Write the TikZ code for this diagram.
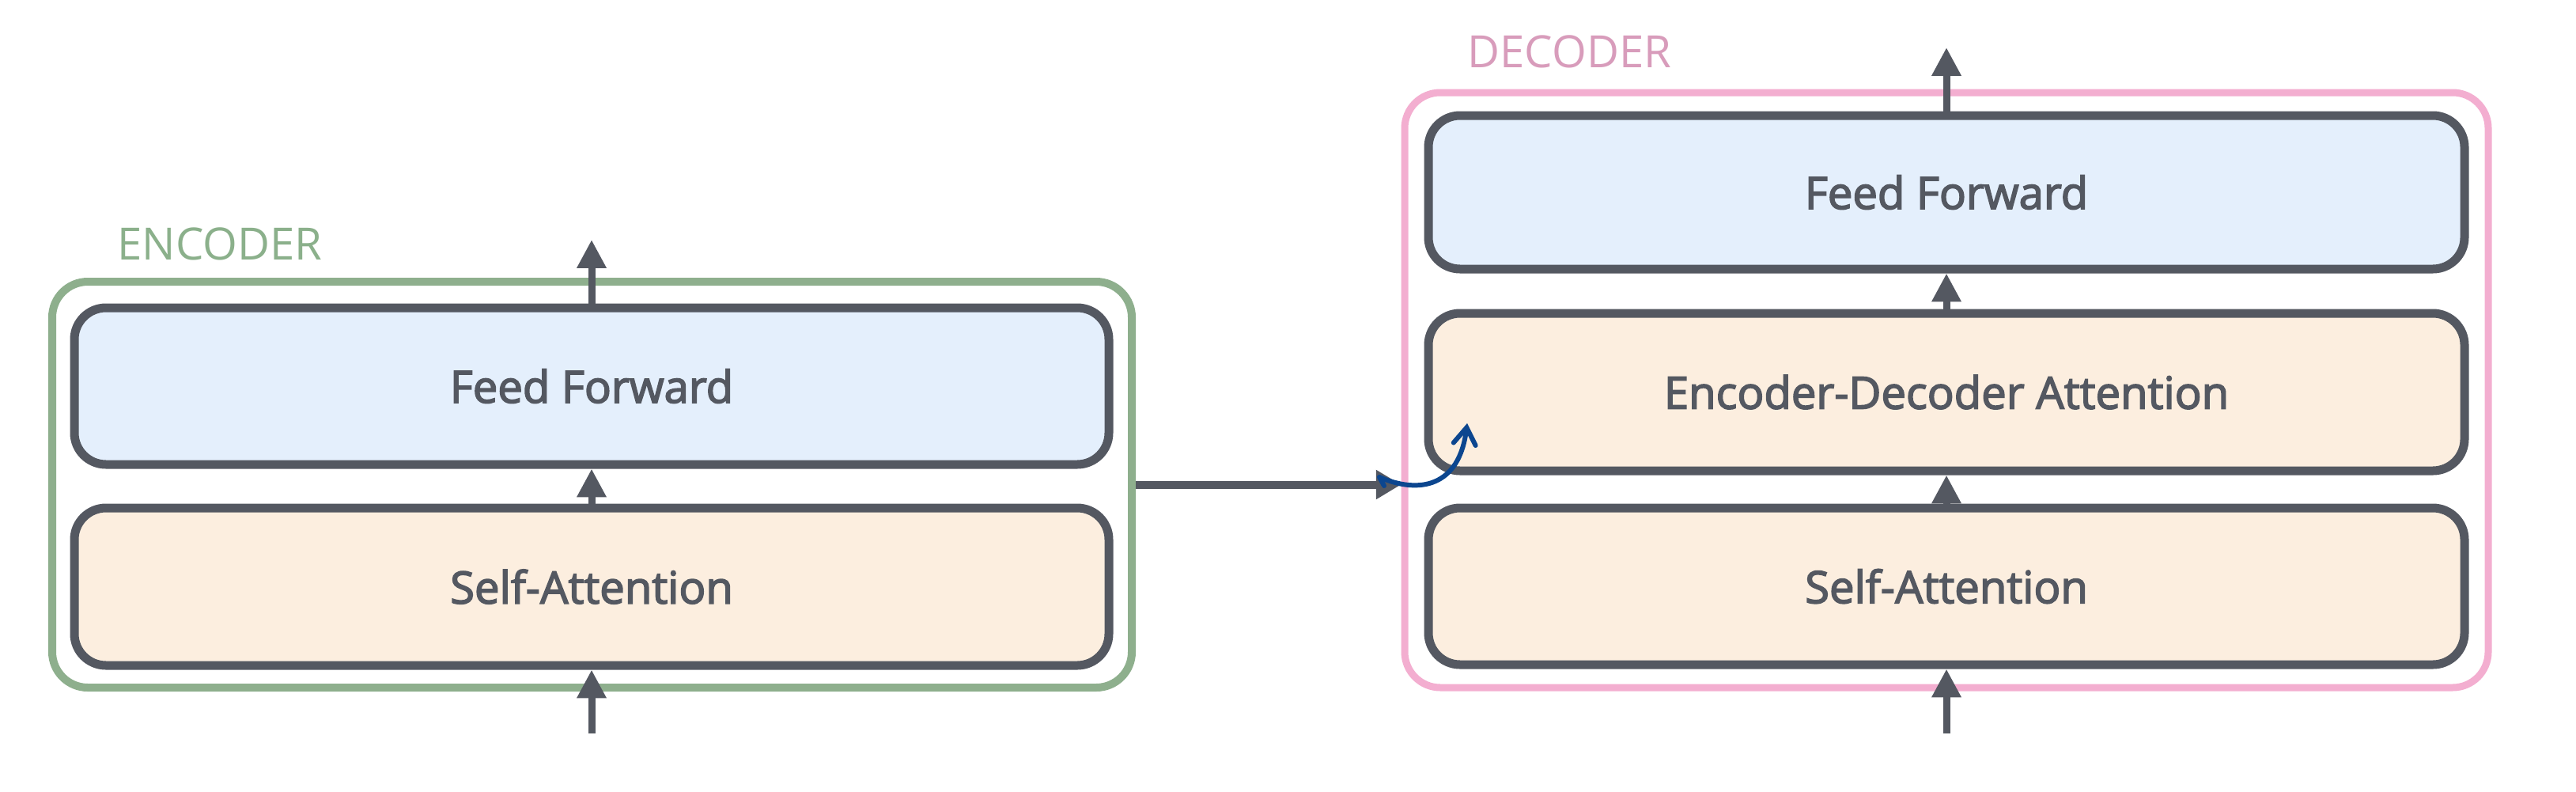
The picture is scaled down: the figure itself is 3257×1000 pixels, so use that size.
\documentclass[tikz,border=0pt]{standalone}
\usepackage{fontspec}
\setmainfont{Open Sans}
\newcommand\semibold[1]{\special{pdf:literal direct 2 Tr 0.45 w}#1\special{pdf:literal direct 0 Tr}}
\usetikzlibrary{arrows.meta}
\definecolor{boxline}{RGB}{84,88,97}
\definecolor{boxtext}{RGB}{84,88,97}
\definecolor{fffill}{RGB}{228,239,252}
\definecolor{safill}{RGB}{252,238,223}
\definecolor{encline}{RGB}{142,175,141}
\definecolor{enctext}{RGB}{139,176,139}
\definecolor{decline}{RGB}{243,174,208}
\definecolor{dectext}{RGB}{216,156,187}
\definecolor{curveblue}{RGB}{12,70,143}
\begin{document}
\begin{tikzpicture}[x=0.1mm,y=-0.1mm,
  layerbox/.style={draw=boxline, line width=3.13pt, rounded corners=4mm, inner sep=0pt,
    text=boxtext, font=\fontsize{16}{19}\selectfont},
  ffbox/.style={layerbox, fill=fffill},
  sabox/.style={layerbox, fill=safill},
  encbox/.style={draw=encline, line width=2.85pt, rounded corners=4.5mm, inner sep=0pt},
  decbox/.style={draw=decline, line width=2.56pt, rounded corners=4.5mm, inner sep=0pt},
  flow/.style={draw=boxline, line width=2.56pt, -{Triangle[length=10.2pt,width=10pt]}},
  hflow/.style={draw=boxline, line width=2.85pt, -{Triangle[length=9pt,width=10pt]}},
  bluecurve/.style={draw=curveblue, line width=1.7pt, line cap=round, line join=round,
    -{Straight Barb[length=6pt,width=8pt,line cap=round]}},
  title/.style={anchor=base west, inner sep=0pt, font=\fontsize{16}{19}\selectfont}]
\useasboundingbox (0,0) rectangle (3257,1000);

% Encoder
\node[encbox, minimum width=136.5mm, minimum height=51.3mm] (enc) at (748.5,612.5) {};
\node[title, text=enctext] (enclabel) at (148,328) {ENCODER};
\node[ffbox, minimum width=130.8mm, minimum height=19.8mm] (eff) at (748,488) {\semibold{Feed Forward}};
\node[sabox, minimum width=130.8mm, minimum height=19.9mm] (esa) at (748,741.5) {\semibold{Self-Attention}};
\coordinate (eout) at (748,303);
\coordinate (ein) at (748,927);
\draw[flow] (eff.north) -- (eout);
\draw[flow] (esa.north) -- (eff.south);
\draw[flow] (ein) -- (esa.south);

% Decoder
\node[decbox, minimum width=137mm, minimum height=75.2mm] (dec) at (2461,493) {};
\node[title, text=dectext] (declabel) at (1855,85) {DECODER};
\node[ffbox, minimum width=131mm, minimum height=19.4mm] (dff) at (2461,243) {\semibold{Feed Forward}};
\node[sabox, minimum width=131mm, minimum height=19.9mm] (deda) at (2461,495.5) {\semibold{Encoder-Decoder Attention}};
\node[sabox, minimum width=131mm, minimum height=19.8mm] (dsa) at (2461,741) {\semibold{Self-Attention}};
\coordinate (dout) at (2461,60);
\coordinate (din) at (2461,927);
\draw[flow] (dff.north) -- (dout);
\draw[flow] (deda.north) -- (dff.south);
\draw[flow] (dsa.north) -- (deda.south);
\draw[flow] (din) -- (dsa.south);

% Encoder to decoder
\draw[hflow] (enc.east) -- (enc.east -| dec.west);

% blue curved arrow
\coordinate (bstart) at (1744,603);
\coordinate (btail) at (1750,614);
\coordinate (bend) at (1855,535);
\draw[bluecurve] (btail) -- (bstart) .. controls (1795,625) and (1845,615) .. (bend);
\end{tikzpicture}
\end{document}
